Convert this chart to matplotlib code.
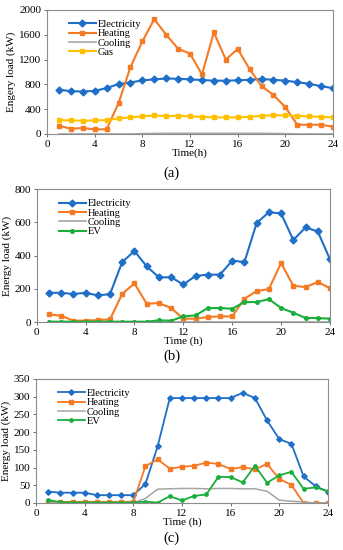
import numpy as np
import matplotlib
matplotlib.use("Agg")
import matplotlib.pyplot as plt

plt.rcParams['font.family'] = ['Liberation Serif', 'DejaVu Serif']

hours = list(range(1, 25))

# (a)
a_elec = [715, 690, 685, 695, 740, 805, 830, 865, 880, 895, 890, 880,
          870, 860, 860, 865, 875, 885, 875, 860, 835, 810, 770, 740]
a_heat = [133, 85, 96, 75, 75, 496, 1077, 1493, 1851, 1600, 1376, 1296,
          960, 1637, 1200, 1371, 1045, 773, 629, 432, 149, 149, 149, 117]
a_cool = [0, 0, 0, 0, 0, 0, 0, 5, 8, 10, 10, 10,
          10, 10, 10, 10, 10, 10, 8, 5, 0, 0, 0, 0]
a_gas = [224, 219, 213, 219, 224, 251, 267, 283, 299, 288, 293, 283,
         277, 267, 267, 267, 277, 293, 304, 299, 293, 283, 277, 267]

# (b)
b_elec = [176, 176, 168, 176, 160, 168, 361, 427, 335, 269, 269, 226,
          277, 285, 285, 369, 361, 595, 661, 653, 493, 569, 545, 377]
b_heat = [46, 38, 8, 8, 12, 16, 170, 232, 110, 114, 84, 20,
          20, 30, 34, 34, 140, 186, 198, 355, 218, 210, 240, 204]
b_cool = [0] * 24
b_ev = [2, 2, 2, 2, 2, 2, 2, 2, 2, 10, 8, 34,
        40, 84, 84, 80, 120, 120, 138, 84, 56, 24, 24, 20]

# (c)
c_elec = [32, 29, 29, 29, 22, 22, 22, 22, 54, 160, 296, 296,
          296, 296, 296, 296, 311, 296, 233, 180, 167, 75, 47, 32]
c_heat = [3, 3, 3, 3, 3, 3, 3, 3, 104, 123, 97, 102,
          105, 114, 110, 96, 101, 95, 110, 68, 51, 0, 0, 0]
c_cool = [0, 0, 0, 0, 0, 0, 0, 0, 13, 39, 40, 41,
          41, 40, 41, 41, 40, 40, 33, 8, 5, 3, 0, 0]
c_ev = [9, 2, 1, 1, 1, 1, 1, 1, 4, 1, 19, 7,
        20, 24, 74, 73, 58, 105, 57, 78, 88, 40, 44, 33]

BLUE = '#1f6fc8'
ORANGE = '#f47a24'
GREY = '#a5a5a5'
GOLD = '#ffc000'
GREEN = '#1aae3c'
FS = 8

fig = plt.figure(figsize=(3.43, 5.5), dpi=100)


def style(ax, ymax, ystep, ylabel, xlabel):
    ax.set_xlim(0, 24)
    ax.set_ylim(0, ymax)
    ax.set_xticks(range(0, 25, 4))
    ax.set_yticks(np.arange(0, ymax + 1, ystep))
    for s in ax.spines.values():
        s.set_color('#8c8c8c')
        s.set_linewidth(0.8)
    ax.tick_params(labelsize=FS, length=2, width=0.6, color='#555555', pad=2)
    ax.set_ylabel(ylabel, fontsize=FS, labelpad=2)
    ax.set_xlabel(xlabel, fontsize=FS, labelpad=0)
    ax.legend(loc='upper left', bbox_to_anchor=(0.05, 0.98), frameon=False,
              fontsize=FS - 0.5, labelspacing=0.0, handlelength=2.6,
              handletextpad=0.2, borderpad=0.2)


# panel (a)
ax1 = fig.add_axes([0.137, 0.7564, 0.834, 0.2255])
ax1.plot(hours, a_elec, color=BLUE, marker='D', ms=3.5, lw=1.5, label='Electricity')
ax1.plot(hours, a_heat, color=ORANGE, marker='s', ms=3.5, lw=1.5, label='Heating')
ax1.plot(hours, a_cool, color=GREY, lw=1.2, label='Cooling')
ax1.plot(hours, a_gas, color=GOLD, marker='s', ms=3.5, lw=1.5, label='Gas')
style(ax1, 2000, 400, 'Engery load (kW)', 'Time(h)')
fig.text(0.5, 1 - 173 / 550, '(a)', ha='center', va='center', fontsize=10.5)

# panel (b)
ax2 = fig.add_axes([0.107, 0.4145, 0.855, 0.2418])
ax2.plot(hours, b_elec, color=BLUE, marker='D', ms=3.5, lw=1.5, label='Electricity')
ax2.plot(hours, b_heat, color=ORANGE, marker='s', ms=3.5, lw=1.5, label='Heating')
ax2.plot(hours, b_cool, color=GREY, lw=1.2, label='Cooling')
ax2.plot(hours, b_ev, color=GREEN, marker='o', ms=2.6, lw=1.5, label='EV')
style(ax2, 800, 200, 'Energy load (kW)', 'Time (h)')
fig.text(0.5, 1 - 356 / 550, '(b)', ha='center', va='center', fontsize=10.5)

# panel (c)
ax3 = fig.add_axes([0.105, 0.0855, 0.851, 0.2255])
ax3.plot(hours, c_elec, color=BLUE, marker='D', ms=2.8, lw=1.3, label='Electricity')
ax3.plot(hours, c_heat, color=ORANGE, marker='s', ms=3.3, lw=1.3, label='Heating')
ax3.plot(hours, c_cool, color=GREY, lw=1.1, label='Cooling')
ax3.plot(hours, c_ev, color=GREEN, marker='o', ms=2.4, lw=1.3, label='EV')
style(ax3, 350, 50, 'Energy load (kW)', 'Time (h)')
fig.text(0.5, 1 - 538 / 550, '(c)', ha='center', va='center', fontsize=10.5)

fig.savefig('out.png', dpi=100)
